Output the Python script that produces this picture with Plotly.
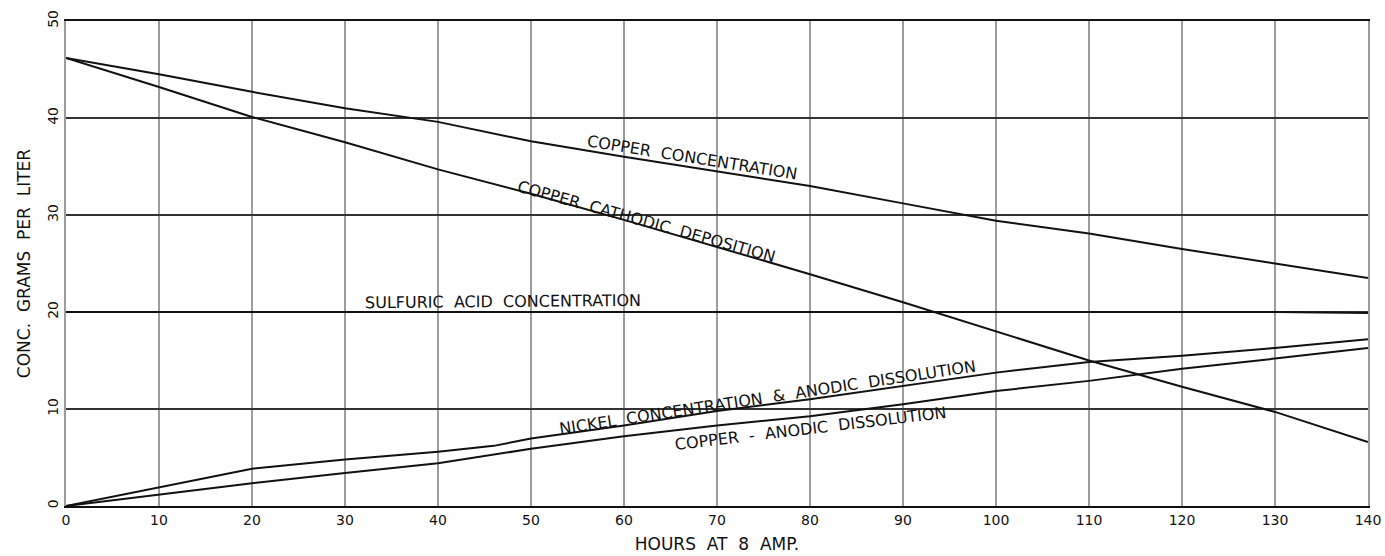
import plotly.graph_objects as go

# Hours of electrolysis at 8 A
hours = [0, 10, 20, 30, 40, 50, 60, 70, 80, 90, 100, 110, 120, 130, 140]

# Concentrations, grams per liter
copper_concentration = [46.2, 44.5, 42.7, 41.0, 39.6, 37.6, 36.0, 34.5, 33.0, 31.2,
                        29.4, 28.1, 26.5, 25.0, 23.5]
copper_cathodic = [46.2, 43.2, 40.1, 37.5, 34.7, 32.2, 29.5, 26.7, 23.9, 21.0,
                   18.0, 15.0, 12.3, 9.7, 6.6]
sulfuric_acid = [20.0, 20.0, 20.0, 20.0, 20.0, 20.0, 20.0, 20.0, 20.0, 20.0,
                 20.0, 20.0, 20.0, 20.0, 19.9]

nickel_hours = [0, 10, 20, 30, 40, 46, 50, 60, 70, 80, 90, 100, 110, 120, 130, 140]
nickel = [0.0, 1.9, 3.85, 4.8, 5.6, 6.2, 6.95, 8.3, 9.8, 11.0, 12.4, 13.75, 14.85,
          15.5, 16.3, 17.2]
copper_anodic = [0.0, 1.15, 2.35, 3.4, 4.4, 5.9, 7.2, 8.3, 9.25, 10.5, 11.85, 12.9,
                 14.15, 15.2, 16.3]

x_ticks = list(range(0, 141, 10))
y_ticks = [0, 10, 20, 30, 40, 50]

# Curve labels: text, anchor (hours, g/l), angle
curve_labels = [
    ("COPPER  CONCENTRATION", 67.3, 35.9, 9),
    ("COPPER  CATHODIC  DEPOSITION", 62.4, 29.3, 15.5),
    ("SULFURIC  ACID  CONCENTRATION", 47.0, 21.1, -0.5),
    ("NICKEL  CONCENTRATION  &  ANODIC  DISSOLUTION", 75.4, 11.2, -8.6),
    ("COPPER  -  ANODIC  DISSOLUTION", 80.0, 8.0, -6.8),
]

FONT = "DejaVu Sans"
line_style = dict(color="#111111", width=2)

fig = go.Figure()
for xs, ys in [(hours, copper_concentration), (hours, copper_cathodic),
               (hours, sulfuric_acid), (nickel_hours, nickel), (hours, copper_anodic)]:
    fig.add_trace(go.Scatter(x=xs, y=ys, mode="lines", line=line_style,
                             hoverinfo="skip", showlegend=False))

for text, x, y, ang in curve_labels:
    fig.add_annotation(x=x, y=y, text=text, textangle=ang, showarrow=False,
                       font=dict(family=FONT, size=16, color="#111111"),
                       xanchor="center", yanchor="middle")

fig.update_layout(
    width=1385, height=556,
    margin=dict(l=66, r=17, t=21, b=50),
    paper_bgcolor="white", plot_bgcolor="white",
    showlegend=False,
    font=dict(family=FONT, color="#111111"),
)
fig.update_xaxes(
    range=[0, 140], tickvals=x_ticks, ticktext=[str(v) for v in x_ticks],
    showgrid=True, gridcolor="#9c9c9c", gridwidth=2,
    showline=True, linecolor="#111111", linewidth=2, mirror=True,
    zeroline=False, ticks="", tickfont=dict(size=14), automargin=False,
    title=dict(text="HOURS  AT  8  AMP.", font=dict(size=17), standoff=11),
)
fig.update_yaxes(
    range=[0, 50], tickvals=y_ticks, ticktext=[str(v) for v in y_ticks],
    showgrid=True, gridcolor="#333333", gridwidth=1.5,
    showline=True, linecolor="#9c9c9c", linewidth=2, mirror=True,
    zeroline=False, ticks="", tickangle=-90, tickfont=dict(size=14), automargin=False,
    title=dict(text="CONC.  GRAMS  PER  LITER", font=dict(size=17), standoff=10),
)

fig.write_html("out.html")
